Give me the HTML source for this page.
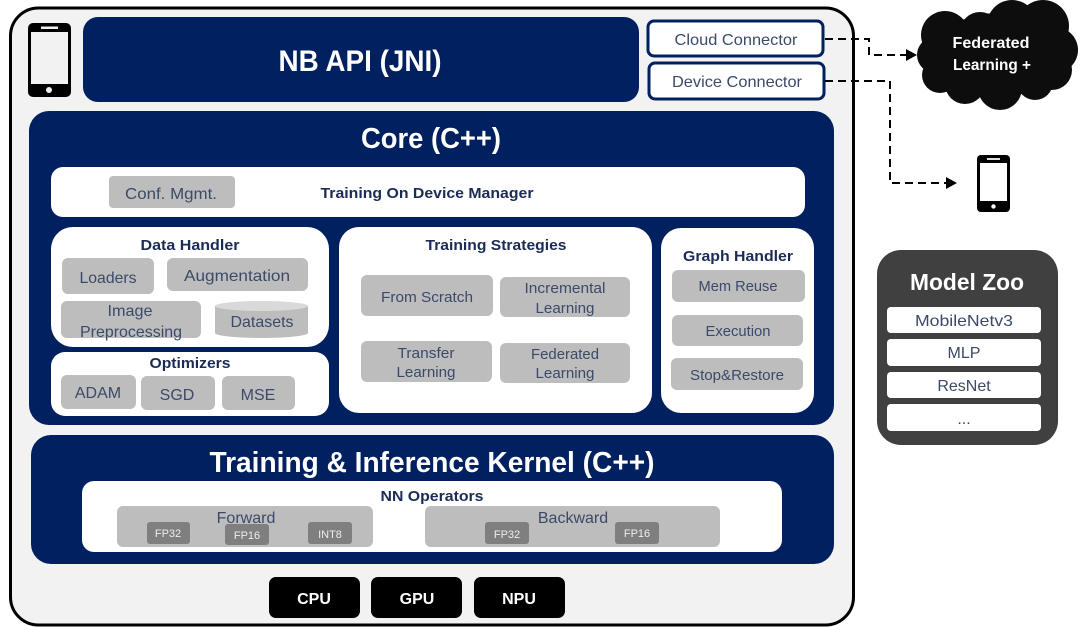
<!DOCTYPE html>
<html><head><meta charset="utf-8"><style>
html,body{margin:0;padding:0;background:#fff}
svg{display:block}
text{font-family:"Liberation Sans",sans-serif;text-anchor:middle}
.g{fill:#bdbdbd}
.n{fill:#002060}
.t{fill:#3a4a68;font-size:16px}
.m{fill:#3a4a68;font-size:15px}
.b{fill:#1a2c55;font-size:15px;font-weight:bold}
.w{fill:#fff;font-weight:bold}
.s{fill:#eee;font-size:11px}
.d{fill:#7f7f7f}
.a{fill:none;stroke:#000;stroke-width:2;stroke-dasharray:8 5}
</style></head><body>
<svg width="1080" height="627" viewBox="0 0 1080 627" xmlns="http://www.w3.org/2000/svg">
<rect x="0" y="0" width="1080" height="627" fill="#fff"/>
<!-- outer -->
<rect x="10.5" y="8" width="843" height="617" rx="28" fill="#f2f2f2" stroke="#000" stroke-width="3"/>
<!-- phone -->
<rect x="28" y="23" width="43" height="74" rx="5" fill="#000"/>
<rect x="31" y="32" width="37" height="52" fill="#f2f2f2"/>
<rect x="41" y="26.5" width="17" height="2.5" fill="#eee"/>
<circle cx="49" cy="90" r="3" fill="#eee"/>
<!-- NB API -->
<rect x="83" y="17" width="556" height="85" rx="15" class="n"/>
<text x="360" y="71" class="w" font-size="30" textLength="163" lengthAdjust="spacingAndGlyphs">NB API (JNI)</text>
<!-- connectors -->
<rect x="648" y="21" width="175" height="35" rx="6" fill="#fff" stroke="#002060" stroke-width="3"/>
<text x="736" y="45" class="t" textLength="123" lengthAdjust="spacingAndGlyphs">Cloud Connector</text>
<rect x="649" y="63" width="175" height="36" rx="6" fill="#fff" stroke="#002060" stroke-width="3"/>
<text x="737" y="87" class="t" textLength="130" lengthAdjust="spacingAndGlyphs">Device Connector</text>
<!-- arrows -->
<path class="a" d="M825 39H869V55H908"/>
<path d="M906 49L917 55L906 61Z" fill="#000"/>
<path class="a" d="M825 81H890V183H948"/>
<path d="M946 177L957 183L946 189Z" fill="#000"/>
<!-- cloud -->
<g fill="#0d0d0d">
<ellipse cx="998" cy="55" rx="65" ry="42"/>
<circle cx="935" cy="55" r="18"/><circle cx="945" cy="35" r="24"/><circle cx="980" cy="32" r="20"/>
<circle cx="1012" cy="25" r="25"/><circle cx="1043" cy="26" r="26"/><circle cx="1055" cy="50" r="23"/>
<circle cx="1052" cy="70" r="20"/><circle cx="1035" cy="82" r="18"/><circle cx="1000" cy="88" r="22"/>
<circle cx="965" cy="84" r="20"/><circle cx="940" cy="75" r="18"/>
</g>
<text x="991" y="48" class="w" font-size="15.5" textLength="77" lengthAdjust="spacingAndGlyphs">Federated</text>
<text x="992" y="70" class="w" font-size="15.5" textLength="78" lengthAdjust="spacingAndGlyphs">Learning +</text>
<!-- small phone -->
<rect x="977" y="155" width="33" height="57" rx="4" fill="#000"/>
<rect x="980" y="163" width="27" height="38" fill="#fff"/>
<rect x="987" y="158" width="13" height="2" fill="#ddd"/>
<circle cx="993.5" cy="206.5" r="2.2" fill="#fff"/>
<!-- model zoo -->
<rect x="877" y="250" width="181" height="195" rx="24" fill="#404040"/>
<text x="967" y="290" class="w" font-size="23" textLength="114" lengthAdjust="spacingAndGlyphs">Model Zoo</text>
<rect x="887" y="307" width="154" height="26" rx="4" fill="#fff"/>
<text x="964" y="326" class="t" textLength="98" lengthAdjust="spacingAndGlyphs">MobileNetv3</text>
<rect x="887" y="339" width="154" height="27" rx="4" fill="#fff"/>
<text x="964" y="358" class="t">MLP</text>
<rect x="887" y="372" width="154" height="26" rx="4" fill="#fff"/>
<text x="964" y="391" class="t">ResNet</text>
<rect x="887" y="404" width="154" height="27" rx="4" fill="#fff"/>
<text x="964" y="424" class="t">...</text>
<!-- core -->
<rect x="29" y="111" width="805" height="314" rx="20" class="n"/>
<text x="431" y="148" class="w" font-size="29" textLength="140" lengthAdjust="spacingAndGlyphs">Core (C++)</text>
<rect x="51" y="167" width="754" height="50" rx="12" fill="#fff"/>
<rect x="109" y="176" width="126" height="32" rx="4" class="g"/>
<text x="171" y="199" class="t" textLength="92" lengthAdjust="spacingAndGlyphs">Conf. Mgmt.</text>
<text x="427" y="198" class="b" textLength="213" lengthAdjust="spacingAndGlyphs">Training On Device Manager</text>
<!-- data handler -->
<rect x="51" y="227" width="278" height="120" rx="22" fill="#fff"/>
<text x="190" y="250" class="b" textLength="99" lengthAdjust="spacingAndGlyphs">Data Handler</text>
<rect x="62" y="258" width="92" height="36" rx="6" class="g"/>
<text x="108" y="283" class="t" textLength="57" lengthAdjust="spacingAndGlyphs">Loaders</text>
<rect x="167" y="258" width="141" height="33" rx="6" class="g"/>
<text x="237" y="281" class="t" textLength="106" lengthAdjust="spacingAndGlyphs">Augmentation</text>
<rect x="61" y="301" width="140" height="37" rx="6" class="g"/>
<text x="130" y="316" class="t" textLength="45" lengthAdjust="spacingAndGlyphs">Image</text>
<text x="131" y="337" class="t" textLength="102" lengthAdjust="spacingAndGlyphs">Preprocessing</text>
<path d="M215 306V333A46.5 5 0 0 0 308 333V306Z" class="g"/>
<ellipse cx="261.5" cy="306" rx="46.5" ry="5" fill="#d9d9d9"/>
<text x="262" y="327" class="t" textLength="63" lengthAdjust="spacingAndGlyphs">Datasets</text>
<!-- optimizers -->
<rect x="51" y="352" width="278" height="64" rx="14" fill="#fff"/>
<text x="190" y="368" class="b" textLength="81" lengthAdjust="spacingAndGlyphs">Optimizers</text>
<rect x="61" y="375" width="75" height="34" rx="6" class="g"/>
<text x="98" y="398" class="t">ADAM</text>
<rect x="141" y="376" width="74" height="34" rx="6" class="g"/>
<text x="177" y="400" class="t">SGD</text>
<rect x="222" y="376" width="73" height="34" rx="6" class="g"/>
<text x="258" y="400" class="t">MSE</text>
<!-- strategies -->
<rect x="339" y="227" width="313" height="186" rx="20" fill="#fff"/>
<text x="496" y="250" class="b" textLength="141" lengthAdjust="spacingAndGlyphs">Training Strategies</text>
<rect x="361" y="275" width="132" height="41" rx="6" class="g"/>
<text x="427" y="302" class="m" textLength="92" lengthAdjust="spacingAndGlyphs">From Scratch</text>
<rect x="500" y="277" width="130" height="40" rx="6" class="g"/>
<text x="565" y="293" class="m" textLength="81" lengthAdjust="spacingAndGlyphs">Incremental</text>
<text x="565" y="313" class="m" textLength="59" lengthAdjust="spacingAndGlyphs">Learning</text>
<rect x="361" y="341" width="131" height="41" rx="6" class="g"/>
<text x="426" y="358" class="m" textLength="57" lengthAdjust="spacingAndGlyphs">Transfer</text>
<text x="426" y="377" class="m" textLength="59" lengthAdjust="spacingAndGlyphs">Learning</text>
<rect x="500" y="343" width="130" height="40" rx="6" class="g"/>
<text x="565" y="359" class="m" textLength="68" lengthAdjust="spacingAndGlyphs">Federated</text>
<text x="565" y="378" class="m" textLength="59" lengthAdjust="spacingAndGlyphs">Learning</text>
<!-- graph handler -->
<rect x="661" y="228" width="153" height="185" rx="20" fill="#fff"/>
<text x="738" y="261" class="b" textLength="110" lengthAdjust="spacingAndGlyphs">Graph Handler</text>
<rect x="672" y="270" width="133" height="32" rx="6" class="g"/>
<text x="738" y="291" class="m" textLength="79" lengthAdjust="spacingAndGlyphs">Mem Reuse</text>
<rect x="672" y="315" width="131" height="31" rx="6" class="g"/>
<text x="738" y="336" class="m" textLength="65" lengthAdjust="spacingAndGlyphs">Execution</text>
<rect x="671" y="358" width="132" height="32" rx="6" class="g"/>
<text x="737" y="380" class="m" textLength="94" lengthAdjust="spacingAndGlyphs">Stop&amp;Restore</text>
<!-- kernel -->
<rect x="31" y="435" width="803" height="129" rx="20" class="n"/>
<text x="432" y="472" class="w" font-size="29" textLength="445" lengthAdjust="spacingAndGlyphs">Training &amp; Inference Kernel (C++)</text>
<rect x="82" y="481" width="700" height="71" rx="12" fill="#fff"/>
<text x="432" y="501" class="b" textLength="103" lengthAdjust="spacingAndGlyphs">NN Operators</text>
<rect x="117" y="506" width="256" height="41" rx="6" class="g"/>
<text x="246" y="523" class="t">Forward</text>
<rect x="147" y="522" width="43" height="22" rx="3" class="d"/>
<text x="168" y="537" class="s">FP32</text>
<rect x="225" y="524" width="44" height="21" rx="3" class="d"/>
<text x="247" y="539" class="s">FP16</text>
<rect x="308" y="522" width="44" height="22" rx="3" class="d"/>
<text x="330" y="538" class="s">INT8</text>
<rect x="425" y="506" width="295" height="41" rx="6" class="g"/>
<text x="573" y="523" class="t">Backward</text>
<rect x="485" y="522" width="44" height="22" rx="3" class="d"/>
<text x="507" y="538" class="s">FP32</text>
<rect x="615" y="522" width="44" height="22" rx="3" class="d"/>
<text x="637" y="537" class="s">FP16</text>
<!-- hw -->
<rect x="269" y="577" width="91" height="41" rx="7" fill="#000"/>
<text x="314" y="604" class="w" font-size="16">CPU</text>
<rect x="371" y="577" width="91" height="41" rx="7" fill="#000"/>
<text x="417" y="604" class="w" font-size="16">GPU</text>
<rect x="474" y="577" width="91" height="41" rx="7" fill="#000"/>
<text x="519" y="604" class="w" font-size="16">NPU</text>
</svg>
</body></html>
